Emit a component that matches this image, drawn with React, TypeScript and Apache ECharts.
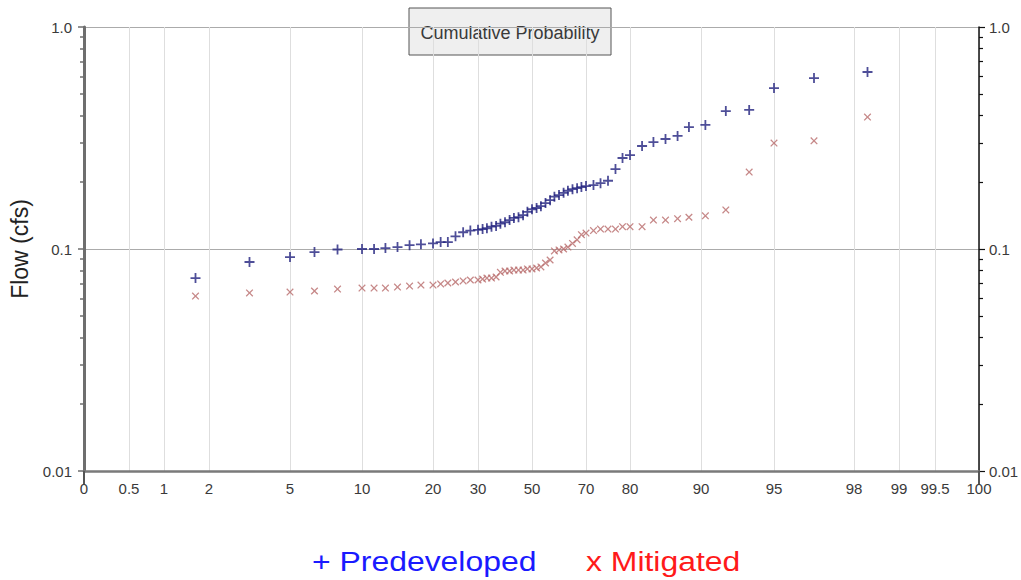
import React, { useEffect, useRef } from 'react';
import * as echarts from 'echarts';

// Probability-axis ticks (percent) and their labels
const PROB_TICKS = [0, 0.5, 1, 2, 5, 10, 20, 30, 50, 70, 80, 90, 95, 98, 99, 99.5, 100];
const TICK_LABELS = ['0', '0.5', '1', '2', '5', '10', '20', '30', '50', '70', '80', '90', '95', '98', '99', '99.5', '100'];
// Scale definition of the probability axis (axis units along the paper)
const TICK_POS = [0, 45, 80, 125, 206, 278, 349, 394, 448, 502, 546, 617, 690, 770, 815, 851, 895];

const FLOW_LABELS = ['0.01', '0.1', '1.0'];
const MINOR_FLOW = [0.02, 0.03, 0.04, 0.05, 0.06, 0.07, 0.08, 0.09, 0.2, 0.3, 0.4, 0.5, 0.6, 0.7, 0.8, 0.9];

// Cumulative probability (%) of each ranked flow
const PROBABILITY = [
  1.7, 3.5, 5.0, 6.7, 8.3, 10.0, 11.7, 13.3, 15.0, 16.7, 18.3, 20.0, 21.7, 23.3, 25.0,
  26.7, 28.3, 30.0, 31.7, 33.3, 35.0, 36.7, 38.3, 40.0, 41.7, 43.3, 45.0, 46.7, 48.3, 50.0,
  51.7, 53.3, 55.0, 56.7, 58.3, 60.0, 61.7, 63.3, 65.0, 66.7, 68.3, 70.0, 71.7, 73.3, 75.0,
  76.7, 78.3, 80.0, 81.7, 83.3, 85.0, 86.7, 88.3, 90.3, 91.7, 93.3, 95.0, 96.5, 98.3,
];

// Flow (cfs)
const PREDEVELOPED = [
  0.074, 0.0874, 0.092, 0.0969, 0.0995, 0.1, 0.1, 0.101, 0.102, 0.104, 0.105, 0.106, 0.1075, 0.1075, 0.114,
  0.119, 0.121, 0.122, 0.123, 0.124, 0.126, 0.127, 0.13, 0.132, 0.135, 0.138, 0.139, 0.142, 0.147, 0.151,
  0.153, 0.156, 0.161, 0.166, 0.172, 0.175, 0.179, 0.183, 0.186, 0.188, 0.19, 0.192, 0.194, 0.198, 0.203,
  0.229, 0.257, 0.265, 0.291, 0.303, 0.313, 0.323, 0.354, 0.362, 0.418, 0.423, 0.531, 0.589, 0.627,
];

const MITIGATED = [
  0.0614, 0.0634, 0.064, 0.0647, 0.066, 0.0667, 0.0667, 0.0667, 0.0674, 0.0681, 0.0688, 0.0688, 0.0696, 0.0703, 0.071,
  0.0718, 0.0725, 0.0725, 0.0732, 0.074, 0.074, 0.0748, 0.0785, 0.0796, 0.0796, 0.0804, 0.0804, 0.0804, 0.0813, 0.0813,
  0.0821, 0.083, 0.0865, 0.0892, 0.098, 0.099, 0.1, 0.102, 0.106, 0.11, 0.116, 0.118, 0.121, 0.123, 0.123,
  0.123, 0.126, 0.126, 0.126, 0.135, 0.135, 0.137, 0.139, 0.141, 0.15, 0.222, 0.3, 0.307, 0.393,
];

const FONT = 'Liberation Sans, Arial, sans-serif';
const PLUS = 'path://M4.1,0H5.9V4.1H10V5.9H5.9V10H4.1V5.9H0V4.1H4.1Z';
const CROSS = 'path://M0,1.2L1.2,0L5,3.8L8.8,0L10,1.2L6.2,5L10,8.8L8.8,10L5,6.2L1.2,10L0,8.8L3.8,5Z';

function probToPos(p: number): number {
  for (let i = 0; i < PROB_TICKS.length - 1; i++) {
    const a = PROB_TICKS[i];
    const b = PROB_TICKS[i + 1];
    if (p >= a && p <= b) {
      return TICK_POS[i] + ((p - a) / (b - a)) * (TICK_POS[i + 1] - TICK_POS[i]);
    }
  }
  return p <= 0 ? TICK_POS[0] : TICK_POS[TICK_POS.length - 1];
}

const flowLabel = (v: number) => FLOW_LABELS[Math.round(Math.log10(v)) + 2] ?? '';
const probLabel = (v: number) => {
  const i = TICK_POS.indexOf(Math.round(v));
  return i >= 0 ? TICK_LABELS[i] : '';
};

export default function App() {
  const ref = useRef<HTMLDivElement>(null);

  useEffect(() => {
    if (!ref.current) return;
    const chart = echarts.init(ref.current, undefined, { renderer: 'svg' });
    const xMax = TICK_POS[TICK_POS.length - 1];
    const gridRect = { left: 84, right: 42, top: 27, bottom: 109, containLabel: false, outerBoundsMode: 'none' };
    const labelStyle = { color: '#3a3a3a', fontSize: 15, fontFamily: FONT };

    chart.setOption({
      animation: false,
      backgroundColor: '#ffffff',
      grid: [gridRect, gridRect],
      xAxis: [
        {
          gridIndex: 0,
          type: 'value',
          min: 0,
          max: xMax,
          axisLine: { show: true, onZero: false, lineStyle: { color: '#7a7a7a', width: 2.5 } },
          axisTick: { show: false, customValues: TICK_POS },
          axisLabel: { customValues: TICK_POS, formatter: probLabel, margin: 10, ...labelStyle },
          splitLine: { show: true, lineStyle: { color: '#dedede', width: 1 } },
        },
        {
          gridIndex: 1,
          type: 'value',
          min: 0,
          max: xMax,
          axisLine: { show: false, onZero: false },
          axisTick: { show: true, customValues: [0, xMax], length: 13, lineStyle: { color: '#555', width: 2 } },
          axisLabel: { show: false },
          splitLine: { show: false },
        },
      ],
      yAxis: [
        {
          gridIndex: 0,
          type: 'log',
          logBase: 10,
          min: 0.01,
          max: 1,
          position: 'left',
          name: 'Flow (cfs)',
          nameLocation: 'middle',
          nameGap: 52,
          nameTextStyle: { fontSize: 23, color: '#222', fontFamily: FONT },
          axisLine: { show: true, onZero: false, lineStyle: { color: '#6e6e6e', width: 3 } },
          axisTick: { show: true, length: 6, lineStyle: { color: '#6e6e6e', width: 1.5 } },
          axisLabel: { formatter: flowLabel, margin: 12, ...labelStyle },
          splitLine: { show: true, lineStyle: { color: '#ababab', width: 1.2 } },
        },
        {
          gridIndex: 0,
          type: 'log',
          logBase: 10,
          min: 0.01,
          max: 1,
          position: 'right',
          axisLine: { show: true, onZero: false, lineStyle: { color: '#111', width: 1.5 } },
          axisTick: { show: true, length: 6, lineStyle: { color: '#111', width: 1.2 } },
          axisLabel: { formatter: flowLabel, margin: 10, ...labelStyle },
          splitLine: { show: false },
        },
        {
          gridIndex: 1,
          type: 'value',
          min: -2,
          max: 0,
          position: 'left',
          axisLine: { show: false, onZero: false },
          axisTick: { show: true, customValues: MINOR_FLOW.map((v) => Math.log10(v)), length: 4, lineStyle: { color: '#6e6e6e', width: 1.5 } },
          axisLabel: { show: false },
          splitLine: { show: false },
        },
        {
          gridIndex: 1,
          type: 'value',
          min: -2,
          max: 0,
          position: 'right',
          axisLine: { show: false, onZero: false },
          axisTick: { show: true, customValues: MINOR_FLOW.map((v) => Math.log10(v)), length: 4, lineStyle: { color: '#111', width: 1.2 } },
          axisLabel: { show: false },
          splitLine: { show: false },
        },
      ],
      series: [
        {
          name: 'Mitigated',
          type: 'scatter',
          xAxisIndex: 0,
          yAxisIndex: 0,
          symbol: CROSS,
          symbolSize: 7.5,
          itemStyle: { color: '#b86a6a' },
          data: PROBABILITY.map((p, i) => [probToPos(p), MITIGATED[i]]),
        },
        {
          name: 'Predeveloped',
          type: 'scatter',
          xAxisIndex: 0,
          yAxisIndex: 0,
          symbol: PLUS,
          symbolSize: 10,
          itemStyle: { color: '#22227e' },
          data: PROBABILITY.map((p, i) => [probToPos(p), PREDEVELOPED[i]]),
        },
      ],
      graphic: [
        {
          type: 'group',
          z: 100,
          children: [
            {
              type: 'rect',
              shape: { x: 409, y: 8, width: 202, height: 47 },
              style: { fill: '#efefef', stroke: '#555', lineWidth: 1 },
            },
            {
              type: 'text',
              x: 510,
              y: 33,
              style: {
                text: 'Cumulative Probability',
                fontSize: 18,
                fontFamily: FONT,
                fill: '#3a3a3a',
                align: 'center',
                verticalAlign: 'middle',
              },
            },
          ],
        },
        {
          type: 'text',
          x: 312,
          y: 561,
          scaleX: 1.14,
          style: {
            text: '+ Predeveloped',
            fontSize: 28,
            fontFamily: FONT,
            fill: '#1a1aff',
            align: 'left',
            verticalAlign: 'middle',
          },
        },
        {
          type: 'text',
          x: 586,
          y: 561,
          scaleX: 1.14,
          style: {
            text: 'x Mitigated',
            fontSize: 28,
            fontFamily: FONT,
            fill: '#ff1a1a',
            align: 'left',
            verticalAlign: 'middle',
          },
        },
      ],
    });

    return () => chart.dispose();
  }, []);

  return (
    <div
      ref={ref}
      style={{ position: 'absolute', left: 0, top: 0, width: 1021, height: 580, background: '#fff' }}
    />
  );
}
